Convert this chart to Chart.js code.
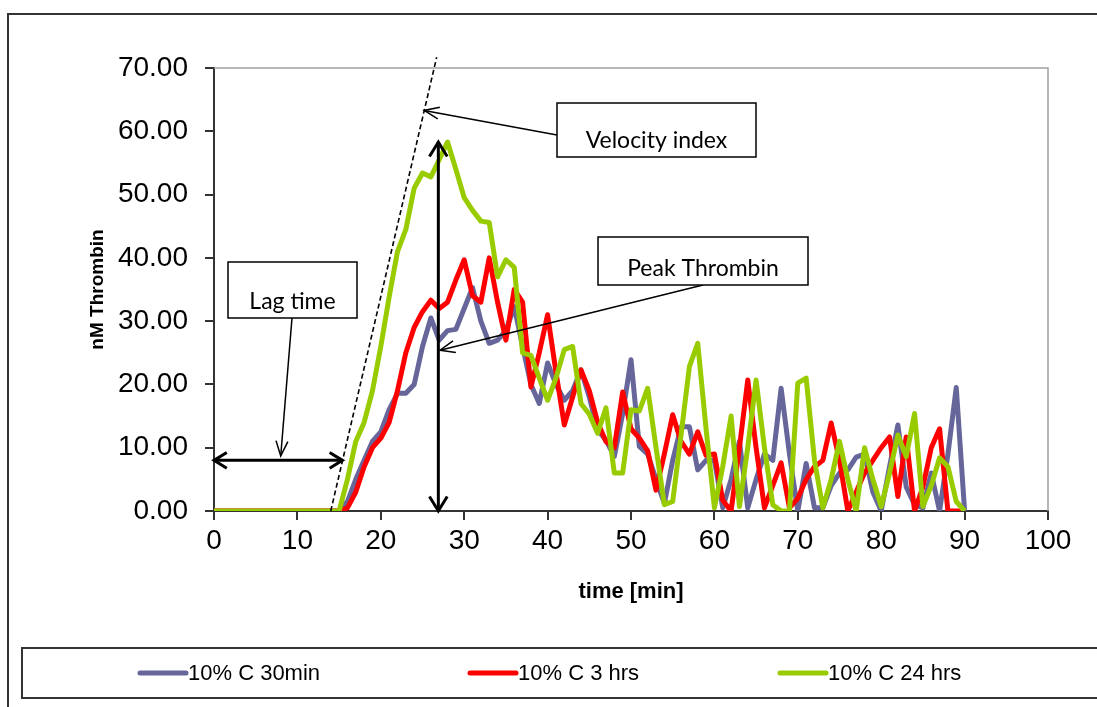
<!DOCTYPE html>
<html>
<head>
<meta charset="utf-8">
<script src="https://cdn.jsdelivr.net/npm/chart.js@4.4.1/dist/chart.umd.min.js"></script>
<style>
  html, body { margin: 0; padding: 0; background: #fff; }
</style>
</head>
<body>
<canvas id="chart1" width="1097" height="707"></canvas>
<script>
// sampling times, one reading per minute
const times = [0,1,2,3,4,5,6,7,8,9,10,11,12,13,14,15,16,17,18,19,20,21,22,23,24,25,26,27,28,29,
  30,31,32,33,34,35,36,37,38,39,40,41,42,43,44,45,46,47,48,49,50,51,52,53,54,55,56,57,58,59,
  60,61,62,63,64,65,66,67,68,69,70,71,72,73,74,75,76,77,78,79,80,81,82,83,84,85,86,87,88,89,90];

const c30min = [0,0,0,0,0,0,0,0,0,0,0,0,0,0,0,0,1.5,5,8,11,12.5,16,18.6,18.6,20,26,30.5,27,28.5,28.7,
  32,35.3,30,26.5,27,28.5,32.3,26,20,17,23.4,20,17.5,19,22.3,18,12.8,11.2,8.6,15.4,
  23.9,10.2,9,5,1.2,8,13.3,13.3,6.5,8,8,0.5,5,11,0.5,5,9,8,19.4,9,
  0,7.5,0.5,0.5,4,6,6.5,8.5,9,3,0,7,13.6,3.8,1,0.5,6,0,9,19.5,0];

const c3hrs = [0,0,0,0,0,0,0,0,0,0,0,0,0,0,0,0,0.5,3,7,10,11.5,14,19,25,29,31.5,33.3,32,33,36.5,
  39.7,34,33,40,33,27,35,33,19.6,25,31,22,13.6,18,22.3,19,14,11,10,18.8,
  13,11.5,9.5,3.3,9,15.2,11,9,12.5,8.8,9,1.7,0,10,20.7,10,0.5,4,7.6,0.5,
  2,5,7,8,13.9,8,0,3,6,8,10,11.7,2.3,11.7,0,3.8,10,13,0,0,0];

const c24hrs = [0,0,0,0,0,0,0,0,0,0,0,0,0,0,0,0,5,11,14,19,26,33.8,41,44.5,51,53.4,52.8,55.5,58.3,54,
  49.5,47.5,45.8,45.6,37,39.7,38.5,25,24.6,21,17.5,21,25.5,26,17,15.3,12.3,16.3,6,6,
  16,15.8,19.4,10,1,1.5,12,22.8,26.5,13,0.5,7,15,0.7,10,20.7,10,1,0,0,
  20.2,21,8,0.5,5,11,5,0,10,5,0.7,6,12,8.6,15.4,0.7,4,8.4,7,1.5,0];

const seriesNames = ['10% C 30min', '10% C 3 hrs', '10% C 24 hrs'];
const seriesColors = ['#66669a', '#ff0000', '#99cc00'];

const xTicks = [0, 10, 20, 30, 40, 50, 60, 70, 80, 90, 100];
const yTicks = [0, 10, 20, 30, 40, 50, 60, 70];

function toPoints(ys) {
  return ys.map((y, i) => ({ x: times[i], y: y }));
}

function arrowHead(ctx, x0, y0, x1, y1, len, spread) {
  const a = Math.atan2(y1 - y0, x1 - x0);
  ctx.beginPath();
  ctx.moveTo(x1 - len * Math.cos(a - spread), y1 - len * Math.sin(a - spread));
  ctx.lineTo(x1, y1);
  ctx.lineTo(x1 - len * Math.cos(a + spread), y1 - len * Math.sin(a + spread));
  ctx.stroke();
}

function labelBox(ctx, x, y, w, h, text) {
  ctx.save();
  ctx.fillStyle = '#fff';
  ctx.fillRect(x, y, w, h);
  ctx.strokeStyle = '#000';
  ctx.lineWidth = 1.5;
  ctx.strokeRect(x, y, w, h);
  ctx.beginPath();
  ctx.rect(x, y, w, h);
  ctx.clip();
  ctx.fillStyle = '#000';
  ctx.font = '23px Lato';
  ctx.textAlign = 'center';
  ctx.textBaseline = 'alphabetic';
  ctx.fillText(text, x + w / 2, y + h - 9);
  ctx.restore();
}

// frame, plot border and legend
const framePlugin = {
  id: 'frame',
  beforeDraw(chart) {
    const ctx = chart.ctx;
    ctx.save();
    ctx.fillStyle = '#fff';
    ctx.fillRect(0, 0, chart.width, chart.height);
    ctx.strokeStyle = '#333';
    ctx.lineWidth = 2;
    ctx.strokeRect(8, 14, 1100, 720);
    ctx.restore();
  },
  beforeDatasetsDraw(chart) {
    const { ctx, chartArea: a } = chart;
    ctx.save();
    ctx.strokeStyle = '#a0a0a0';
    ctx.lineWidth = 1.5;
    ctx.beginPath();
    ctx.moveTo(a.left, a.top);
    ctx.lineTo(a.right, a.top);
    ctx.lineTo(a.right, a.bottom);
    ctx.stroke();
    ctx.restore();
  },
  afterDraw(chart) {
    const ctx = chart.ctx;
    ctx.save();
    ctx.strokeStyle = '#333';
    ctx.lineWidth = 2;
    ctx.strokeRect(22, 648, 1090, 50);
    const slots = [140, 470, 780];
    ctx.font = '22px "Liberation Sans Narrow", Arial';
    ctx.textBaseline = 'middle';
    ctx.fillStyle = '#000';
    chart.data.datasets.forEach((ds, i) => {
      const x = slots[i];
      ctx.strokeStyle = ds.borderColor;
      ctx.lineWidth = 5;
      ctx.lineCap = 'round';
      ctx.beginPath();
      ctx.moveTo(x, 673);
      ctx.lineTo(x + 46, 673);
      ctx.stroke();
      ctx.fillText(ds.label, x + 48, 674);
    });
    ctx.restore();
  }
};

// lag time, velocity index and peak markers
const notesPlugin = {
  id: 'notes',
  afterDatasetsDraw(chart) {
    const ctx = chart.ctx;
    const xs = chart.scales.x, ys = chart.scales.y;
    const px = v => xs.getPixelForValue(v);
    const py = v => ys.getPixelForValue(v);
    ctx.save();
    ctx.strokeStyle = '#000';
    ctx.lineCap = 'butt';

    // tangent of the rising edge
    ctx.lineWidth = 1.6;
    ctx.setLineDash([5, 3]);
    ctx.beginPath();
    ctx.moveTo(px(14.0), py(0));
    ctx.lineTo(px(26.7), py(71.7));
    ctx.stroke();
    ctx.setLineDash([]);

    // lag time span
    ctx.lineWidth = 3;
    ctx.beginPath();
    ctx.moveTo(px(0), py(8));
    ctx.lineTo(px(15.4), py(8));
    ctx.stroke();
    arrowHead(ctx, px(15.4), py(8), px(0), py(8), 15, 0.55);
    arrowHead(ctx, px(0), py(8), px(15.4), py(8), 15, 0.55);

    // peak height
    ctx.beginPath();
    ctx.moveTo(px(26.9), py(0));
    ctx.lineTo(px(26.9), py(58.3));
    ctx.stroke();
    arrowHead(ctx, px(26.9), py(0), px(26.9), py(58.3), 17, 0.55);
    arrowHead(ctx, px(26.9), py(58.3), px(26.9), py(0), 17, 0.55);

    // callout leaders
    ctx.lineWidth = 1.5;
    const leaders = [
      [557, 135, px(25.2), py(63.3)],
      [703, 285, px(27.1), py(25.4)],
      [292, 318, px(8), py(8.7)]
    ];
    leaders.forEach(([x0, y0, x1, y1]) => {
      ctx.beginPath();
      ctx.moveTo(x0, y0);
      ctx.lineTo(x1, y1);
      ctx.stroke();
      arrowHead(ctx, x0, y0, x1, y1, 16, 0.38);
    });
    ctx.restore();

    labelBox(ctx, 557, 103, 199, 54, 'Velocity index');
    labelBox(ctx, 598, 237, 210, 48, 'Peak Thrombin');
    labelBox(ctx, 228, 262, 129, 56, 'Lag time');
  }
};

new Chart(document.getElementById('chart1'), {
  type: 'line',
  data: {
    datasets: [
      { label: seriesNames[0], data: toPoints(c30min), borderColor: seriesColors[0], order: 3 },
      { label: seriesNames[1], data: toPoints(c3hrs), borderColor: seriesColors[1], order: 2 },
      { label: seriesNames[2], data: toPoints(c24hrs), borderColor: seriesColors[2], order: 1 }
    ]
  },
  options: {
    responsive: false,
    animation: false,
    layout: { padding: { left: 0, top: 68, right: 49, bottom: 0 } },
    elements: {
      line: { borderWidth: 5, tension: 0, borderJoinStyle: 'round', fill: false },
      point: { radius: 0 }
    },
    plugins: {
      legend: { display: false },
      tooltip: { enabled: false }
    },
    scales: {
      x: {
        type: 'linear',
        min: 0,
        max: 100,
        afterFit(scale) { scale.height = 196; },
        afterBuildTicks(scale) { scale.ticks = xTicks.map(v => ({ value: v })); },
        ticks: {
          font: { family: 'Arial', size: 28 },
          color: '#000',
          padding: 4,
          maxRotation: 0
        },
        grid: { drawOnChartArea: false, tickLength: 9, color: '#333', lineWidth: 2 },
        border: { color: '#333', width: 2 },
        title: {
          display: true,
          text: 'time [min]',
          font: { family: 'Arial', size: 22, weight: 'bold' },
          color: '#000',
          padding: { top: 0, bottom: 102 }
        }
      },
      y: {
        min: 0,
        max: 70,
        afterFit(scale) { scale.width = 214; },
        afterBuildTicks(scale) { scale.ticks = yTicks.map(v => ({ value: v })); },
        ticks: {
          font: { family: 'Arial', size: 28 },
          color: '#000',
          padding: 17,
          callback: v => v.toFixed(2)
        },
        grid: { drawOnChartArea: false, tickLength: 9, color: '#333', lineWidth: 2 },
        border: { color: '#333', width: 2 },
        title: {
          display: true,
          text: 'nM Thrombin',
          font: { family: 'Arial', size: 19, weight: 'bold' },
          color: '#000',
          padding: { top: 86, bottom: 0 }
        }
      }
    }
  },
  plugins: [framePlugin, notesPlugin]
});
</script>
</body>
</html>
